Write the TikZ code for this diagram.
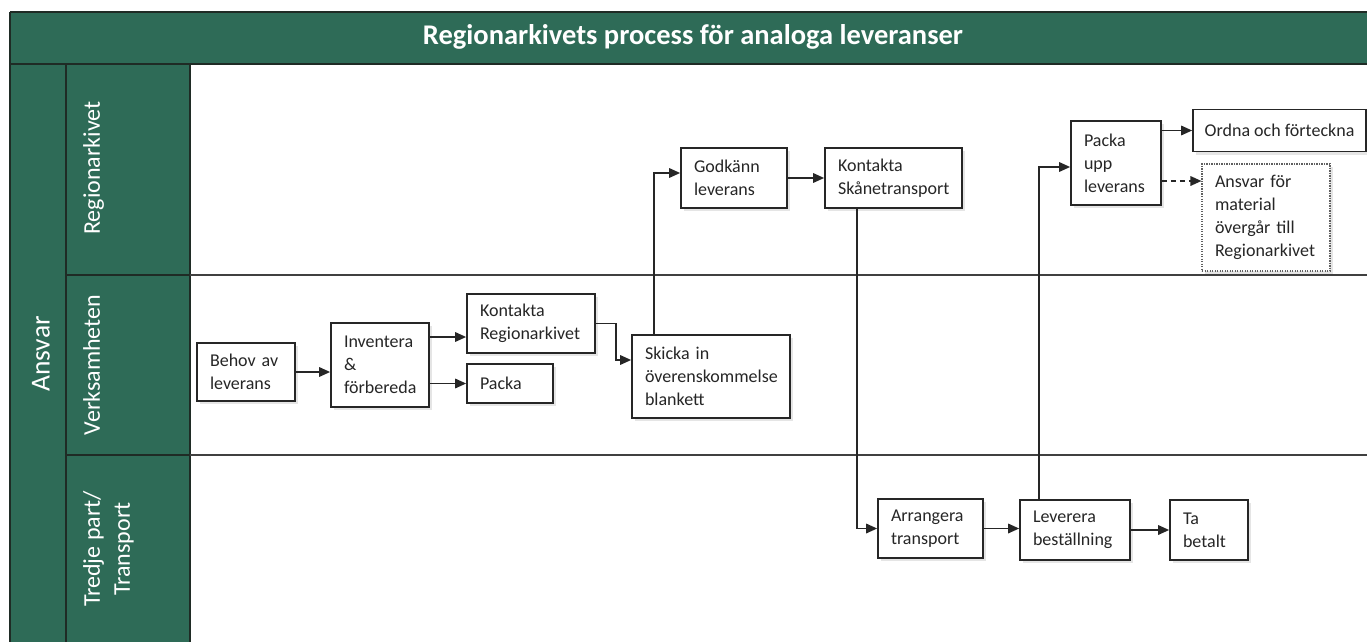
\documentclass[tikz,border=0pt]{standalone}
\usepackage{fontspec}
\setmainfont{Carlito}
\usetikzlibrary{arrows.meta,shadows,calc}
\definecolor{rgreen}{HTML}{2E6B57}
\definecolor{rline}{HTML}{1F2B25}
\definecolor{ink}{HTML}{262626}
\begin{document}
\begin{tikzpicture}[x=1pt,y=-1pt,
  box/.style={draw=ink, line width=1.7pt, fill=white, text=ink, align=left,
    inner xsep=13pt, inner ysep=0pt, font=\fontsize{18}{23}\selectfont,
    drop shadow={shadow xshift=2.5pt, shadow yshift=-3pt, opacity=0.2}},
  dotbox/.style={box, draw=gray!75!black, dash pattern=on 1.2pt off 1.3pt, line width=1.1pt},
  conn/.style={draw=ink, line width=1.7pt, -{Triangle[length=11pt,width=9.5pt]}},
  dconn/.style={conn, dash pattern=on 5pt off 4pt},
  frameline/.style={draw=rline, line width=1.6pt},
  laneline/.style={draw=black!75, line width=1.5pt},
  lanelabel/.style={text=white, font=\fontsize{24}{30}\selectfont, rotate=90, anchor=north, align=center, inner sep=0pt},
]
\useasboundingbox (0,0) rectangle (1367,642);
\fill[white] (0,0) rectangle (1367,642);
% title band and label columns
\fill[rgreen] (10,12) rectangle (1367,64);
\fill[rgreen] (10,64) rectangle (190,642);
\node[text=white, font=\fontsize{28.5}{33}\bfseries\selectfont] (title) at (693,37) {Regionarkivets process för analoga leveranser};
% lane labels
\node[text=white, font=\fontsize{27.5}{32}\selectfont, rotate=90] (ansvar) at (41,354) {Ansvar};
\node[lanelabel] (l1) at (83,168) {Regionarkivet};
\node[lanelabel] (l2) at (83,365) {Verksamheten};
\node[lanelabel] (l3) at (83,549) {Tredje part/\\Transport};
% frame lines
\draw[frameline] (10,12) -- (1367,12);
\draw[frameline] (10,12) -- (10,642);
\draw[frameline] (10,64) -- (1367,64);
\draw[frameline] (66,64) -- (66,642);
\draw[frameline] (190,64) -- (190,642);
\draw[frameline] (66,275) -- (190,275);
\draw[frameline] (66,455) -- (190,455);
\draw[laneline] (190,275) -- (1367,275);
\draw[laneline] (190,455) -- (1367,455);
% process boxes
\node[box, minimum width=98pt, minimum height=58pt, text width=72pt] (behov) at (246,372) {Behov av\\leverans};
\node[box, minimum width=98pt, minimum height=84pt, text width=72pt] (invent) at (380,365) {Inventera\\\&\\förbereda};
\node[box, minimum width=128pt, minimum height=59pt, text width=102pt] (kontR) at (531,323.5) {Kontakta\\Regionarkivet};
\node[box, minimum width=86pt, minimum height=39pt, text width=60pt] (packa) at (510,383.5) {Packa};
\node[box, minimum width=158pt, minimum height=83pt, text width=132pt] (skicka) at (711,376.5) {Skicka in\\överenskommelse\\blankett};
\node[box, minimum width=106pt, minimum height=60pt, text width=80pt] (godk) at (734,178) {Godkänn\\leverans};
\node[box, minimum width=137pt, minimum height=60pt, text width=111pt] (kontS) at (893.5,178) {Kontakta\\Skånetransport};
\node[box, minimum width=90pt, minimum height=84pt, text width=64pt] (packaupp) at (1116,163) {Packa\\upp\\leverans};
\node[box, inner xsep=10pt, minimum width=173pt, minimum height=42pt] (ordna) at (1279.5,130.5) {Ordna och förteckna};
\node[dotbox, minimum width=128pt, minimum height=107pt, text width=102pt] (overgar) at (1266,217.5) {Ansvar för\\material\\övergår till\\Regionarkivet};
\node[box, minimum width=105pt, minimum height=59pt, text width=79pt] (arr) at (930.5,528.5) {Arrangera\\transport};
\node[box, minimum width=110pt, minimum height=60pt, text width=84pt] (lev) at (1075,530) {Leverera\\beställning};
\node[box, minimum width=78pt, minimum height=60pt, text width=52pt] (ta) at (1209,530) {Ta\\betalt};
% connectors
\draw[conn] (behov.east) -- (behov.east -| invent.west);
\draw[conn] ([yshift=28pt]invent.east) coordinate (c1) -- (c1 -| kontR.west);
\draw[conn] (invent.east |- packa.west) -- (packa.west);
\draw[conn] (kontR.east) -- ++(20,0) |- ([yshift=16.5pt]skicka.west);
\draw[conn] ([xshift=23pt]skicka.north west) |- ([yshift=5pt]godk.west);
\draw[conn] (godk.east) -- (godk.east -| kontS.west);
\draw[conn] ([xshift=33pt]kontS.south west) |- (arr.west);
\draw[conn] (arr.east) -- (arr.east -| lev.west);
\draw[conn] ([xshift=20pt]lev.north west) |- ([yshift=-4pt]packaupp.west);
\draw[conn] (lev.east) -- (lev.east -| ta.west);
\draw[conn] (packaupp.east |- ordna.west) -- (ordna.west);
\draw[dconn] ([yshift=-18pt]packaupp.east) coordinate (c2) -- (c2 -| overgar.west);
\end{tikzpicture}
\end{document}
